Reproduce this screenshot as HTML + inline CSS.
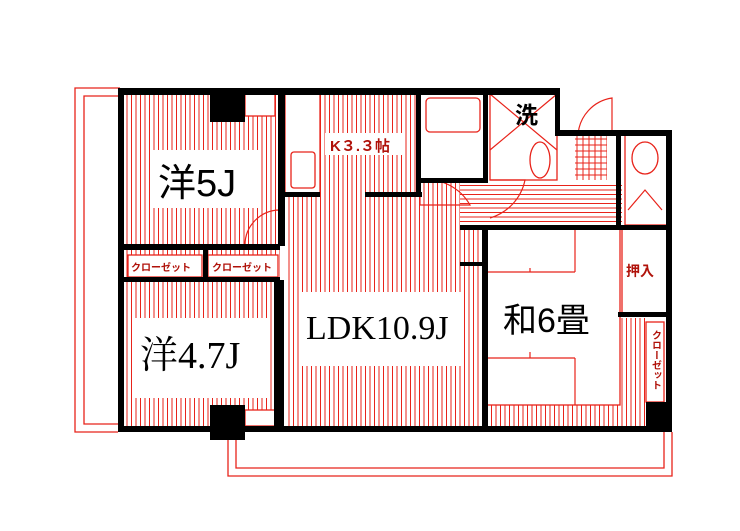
<!DOCTYPE html>
<html><head><meta charset="utf-8"><style>
html,body{margin:0;padding:0;background:#fff;width:740px;height:531px;overflow:hidden}
svg{display:block}
text{font-family:"Liberation Sans","Noto Sans CJK JP",sans-serif}
text.s{font-family:"Liberation Serif","Noto Serif CJK SC",serif}
</style></head><body>
<svg width="740" height="531" viewBox="0 0 740 531" xmlns="http://www.w3.org/2000/svg">
<defs>
<pattern id="v" width="4.5" height="10" patternUnits="userSpaceOnUse"><rect width="4.5" height="10" fill="#fff"/><line x1="1" y1="0" x2="1" y2="10" stroke="#e8231a" stroke-width="1"/></pattern>
<pattern id="h" width="10" height="4.5" patternUnits="userSpaceOnUse"><rect width="10" height="4.5" fill="#fff"/><line x1="0" y1="1" x2="10" y2="1" stroke="#e8231a" stroke-width="1"/></pattern>
<pattern id="g" width="6" height="6" patternUnits="userSpaceOnUse"><rect width="6" height="6" fill="#fff"/><path d="M1 0V6M0 1H6" stroke="#e8231a" stroke-width="1"/></pattern>
</defs>
<g fill="none" stroke="#e8231a" stroke-width="1.3">
<path d="M120 88H75V432H118"/><path d="M120 96H84V424H118"/>
<path d="M228 440V476H672V432"/><path d="M236 440V468H664V432"/>
</g>
<rect x="124" y="94" width="156" height="152" fill="url(#v)"/>
<rect x="124" y="280" width="154" height="146" fill="url(#v)"/>
<rect x="124" y="246" width="156" height="34" fill="url(#v)"/>
<rect x="285" y="94" width="177" height="332" fill="url(#v)"/>
<rect x="462" y="228" width="25" height="198" fill="url(#v)"/>
<rect x="460" y="182" width="162" height="46" fill="url(#h)"/>
<rect x="487" y="405" width="135" height="21" fill="url(#v)"/>
<rect x="620" y="318" width="26" height="108" fill="url(#v)"/>
<rect x="575" y="135" width="32" height="45" fill="url(#g)"/>
<g fill="#fff" stroke="#e8231a" stroke-width="1.3">
<rect x="150" y="150" width="108" height="58" stroke="none"/>
<rect x="285" y="94" width="35" height="100"/>
<rect x="291" y="152" width="24" height="36" rx="3"/>
<rect x="325" y="133" width="78" height="22" stroke="none"/>
<rect x="300" y="292" width="162" height="74" stroke="none"/>
<rect x="134" y="318" width="136" height="80" stroke="none"/>
<rect x="420" y="94" width="65" height="86"/>
<rect x="426" y="98" width="54" height="34" rx="4"/>
<rect x="490" y="94" width="67" height="86"/>
<rect x="487" y="228" width="133" height="177"/>
<rect x="622" y="228" width="45" height="88"/>
<rect x="625" y="135" width="42" height="90"/>
<rect x="646" y="322" width="18" height="80"/>
<rect x="128" y="255" width="74" height="22"/>
<rect x="208" y="255" width="70" height="22"/>
<rect x="245" y="94" width="30" height="22"/>
<rect x="245" y="410" width="30" height="16"/>
<ellipse cx="540" cy="160" rx="10" ry="18"/>
<ellipse cx="645" cy="158" rx="13" ry="16"/>
</g>
<g fill="none" stroke="#e8231a" stroke-width="1.2">
<path d="M487 272H575M487 358H575M575 228V272M575 358V405M530 272V268M530 358V352"/>
<path d="M470 205A50 50 0 0 0 420 180V205Z"/>
<path d="M490 218A50 50 0 0 0 525 180H490"/>
<path d="M245 245A35 35 0 0 1 280 210V245"/>
<path d="M578 135A40 40 0 0 1 612 98V135"/>
<path d="M490 94L557 150M557 94L490 150"/>
<path d="M628 210L645 190L662 210"/>
</g>
<g fill="#000">
<rect x="118" y="88" width="442" height="7"/>
<rect x="118" y="88" width="6" height="344"/>
<rect x="118" y="426" width="554" height="6"/>
<rect x="555" y="88" width="5" height="47"/>
<rect x="555" y="130" width="117" height="6"/>
<rect x="666" y="130" width="6" height="302"/>
<rect x="210" y="94" width="35" height="28"/>
<rect x="210" y="405" width="35" height="35"/>
<rect x="278" y="94" width="7" height="152"/>
<rect x="274" y="280" width="10" height="146"/>
<rect x="124" y="244" width="156" height="6"/>
<rect x="124" y="277" width="156" height="5"/>
<rect x="203" y="246" width="5" height="34"/>
<rect x="285" y="192" width="35" height="5"/>
<rect x="365" y="192" width="57" height="5"/>
<rect x="416" y="94" width="5" height="103"/>
<rect x="483" y="94" width="5" height="88"/>
<rect x="416" y="178" width="72" height="5"/>
<rect x="460" y="225" width="162" height="5"/>
<rect x="482" y="228" width="6" height="198"/>
<rect x="460" y="262" width="25" height="4"/>
<rect x="618" y="225" width="54" height="5"/>
<rect x="618" y="312" width="50" height="5"/>
<rect x="646" y="402" width="26" height="30"/>
<rect x="616" y="135" width="5" height="95"/>
</g>
<g fill="#000">
<text x="158" y="196" font-size="38">洋5J</text>
<text class="s" x="140" y="368" font-size="38">洋4.7J</text>
<text class="s" x="306" y="339" font-size="34">LDK10.9J</text>
<text x="503" y="332" font-size="34">和6畳</text>
<text x="515" y="123" font-size="23" font-weight="bold">洗</text>
</g>
<g fill="#b0120a" font-weight="bold">
<text x="330" y="151" font-size="15">K３.３帖</text>
<text x="131" y="271" font-size="10">クローゼット</text>
<text x="212" y="271" font-size="10">クローゼット</text>
<text x="626" y="276" font-size="14">押入</text>
<text x="655" y="330" font-size="10" writing-mode="tb">クローゼット</text>
</g>
</svg>
</body></html>
